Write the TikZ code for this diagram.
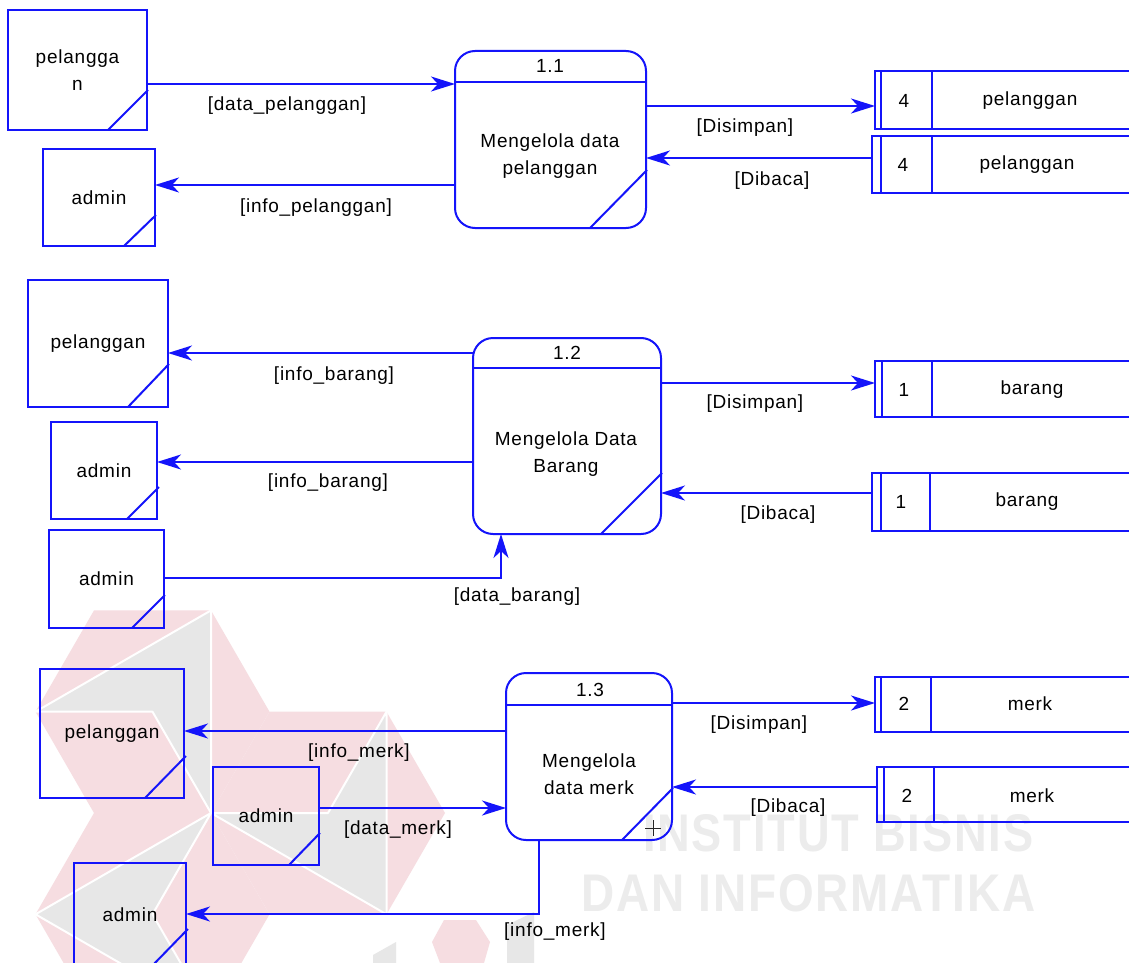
\documentclass[tikz,border=0pt]{standalone}
\usepackage{graphicx}
\usepackage{fontspec}
\setmainfont[LetterSpace=4]{Liberation Sans}
\usetikzlibrary{arrows.meta,calc}
\definecolor{dfd}{RGB}{20,20,250}
\definecolor{wmpink}{RGB}{246,221,225}
\definecolor{wmgrey}{RGB}{231,231,231}
\definecolor{wmtext}{RGB}{236,236,236}
\begin{document}
\begin{tikzpicture}[x=1pt,y=-1pt,font=\fontsize{19}{27}\selectfont,
  ln/.style={draw=dfd,line width=2pt},
  ent/.style={draw=dfd,line width=2pt,inner sep=0pt,outer sep=0pt,align=center,text=black},
  proc/.style={draw=dfd,line width=2pt,rounded corners=20pt,inner sep=0pt,outer sep=0pt},
  store/.style={inner sep=0pt,outer sep=0pt,minimum width=265pt},
  flow/.style={draw=dfd,line width=2pt,-{Stealth[length=24pt,width=15pt,inset=7pt]}},
  lbl/.style={inner sep=0pt,text=black,align=center},
  wmgreyfill/.style={fill=wmgrey,draw=white,line width=2pt,line join=round}]
\useasboundingbox (0,0) rectangle (1129,963);
\clip (0,0) rectangle (1129,963);
\fill[white] (0,0) rectangle (1129,963);

% ---------- watermark ----------
% right hexagon, centre (328,813)
\fill[wmpink] (211,813) -- (269.5,711.7) -- (386.5,711.7) -- (445,813) -- (386.5,914.3) -- (269.5,914.3) -- cycle;
\path[wmgreyfill] (386.5,711.7) -- (386.5,914.3) -- (211,813) -- (328,813) -- cycle;
% upper-left hexagon, centre (152.5,711.7)
\fill[wmpink] (269.5,711.7) -- (211,610.4) -- (94,610.4) -- (35.5,711.7) -- (94,813) -- (211,813) -- cycle;
\path[wmgreyfill] (35.5,711.7) -- (211,610.4) -- (211,813) -- (152.5,711.7) -- cycle;
% lower-left hexagon, centre (152.5,914.3)
\fill[wmpink] (269.5,914.3) -- (211,1015.6) -- (94,1015.6) -- (35.5,914.3) -- (94,813) -- (211,813) -- cycle;
\path[wmgreyfill] (211,1015.6) -- (35.5,914.3) -- (211,813) -- (152.5,914.3) -- cycle;
% fragments at the bottom
\fill[wmpink] (444,920) -- (476,920) -- (490,942) -- (484,963) -- (440,963) -- (432,942) -- cycle;
\fill[wmgrey] (373,955) -- (396,942) -- (396,963) -- (373,963) -- cycle;
\fill[wmgrey] (507,925) -- (534,912) -- (534,963) -- (507,963) -- cycle;
\node[inner sep=0pt,anchor=west,text=wmtext] (wm1) at (643,833) {\resizebox{390pt}{37pt}{\bfseries INSTITUT BISNIS}};
\node[inner sep=0pt,anchor=west,text=wmtext] (wm2) at (581,893) {\resizebox{454pt}{37pt}{\bfseries DAN INFORMATIKA}};

% ---------- section 1 ----------
\node[ent,minimum width=139pt,minimum height=120pt] (e1) at (77.5,70) {pelangga\\n};
\draw[ln] ([xshift=-39pt]e1.south east) -- ([shift={(1pt,40pt)}]e1.south east);
\node[ent,minimum width=112pt,minimum height=97pt] (e2) at (99,197.5) {admin};
\draw[ln] ([xshift=-31pt]e2.south east) -- ([shift={(1pt,31pt)}]e2.south east);

\node[proc,minimum width=191pt,minimum height=177pt] (p1) at (550.5,139.5) {};
\draw[ln] ([yshift=-31pt]p1.north west) -- ([yshift=-31pt]p1.north east);
\draw[ln] ([xshift=-56pt]p1.south east) -- ([shift={(1pt,58pt)}]p1.south east);
\node[lbl] (p1n) at (550,66) {1.1};
\node[lbl] (p1t) at (550,156) {Mengelola data\\pelanggan};

\node[store,minimum height=58pt] (s1a) at (1007.5,100) {};
\draw[ln] (s1a.north east) -- (s1a.north west) -- (s1a.south west) -- (s1a.south east);
\draw[ln] ([xshift=6pt]s1a.north west) -- ([xshift=6pt]s1a.south west);
\draw[ln] ([xshift=57pt]s1a.north west) -- ([xshift=57pt]s1a.south west);
\node[lbl] (s1an) at (904,101) {4};
\node[lbl] (s1at) at (1030,101) {pelanggan};

\node[store,minimum height=57pt] (s1b) at (1004.5,164.5) {};
\draw[ln] (s1b.north east) -- (s1b.north west) -- (s1b.south west) -- (s1b.south east);
\draw[ln] ([xshift=9pt]s1b.north west) -- ([xshift=9pt]s1b.south west);
\draw[ln] ([xshift=60pt]s1b.north west) -- ([xshift=60pt]s1b.south west);
\node[lbl] (s1bn) at (903,165) {4};
\node[lbl] (s1bt) at (1027,165) {pelanggan};

\draw[flow] (e1.east |- 0,84) -- (p1.west |- 0,84);
\node[lbl] (l1) at (287,106) {[data\_pelanggan]};
\draw[flow] (p1.west |- 0,185) -- (e2.east |- 0,185);
\node[lbl] (l2) at (316,208) {[info\_pelanggan]};
\draw[flow] (p1.east |- 0,106) -- (s1a.west |- 0,106);
\node[lbl] (l3) at (745,128) {[Disimpan]};
\draw[flow] (s1b.west |- 0,158) -- (p1.east |- 0,158);
\node[lbl] (l4) at (772,181) {[Dibaca]};

% ---------- section 2 ----------
\node[ent,minimum width=140pt,minimum height=127pt] (e3) at (98,343.5) {pelanggan};
\draw[ln] ([xshift=-40pt]e3.south east) -- ([shift={(1pt,43pt)}]e3.south east);
\node[ent,minimum width=106pt,minimum height=97pt] (e4) at (104,470.5) {admin};
\draw[ln] ([xshift=-30pt]e4.south east) -- ([shift={(2pt,32pt)}]e4.south east);
\node[ent,minimum width=115pt,minimum height=98pt] (e5) at (106.5,579) {admin};
\draw[ln] ([xshift=-32pt]e5.south east) -- ([shift={(1pt,33pt)}]e5.south east);

\node[proc,minimum width=188pt,minimum height=196pt] (p2) at (567,436) {};
\draw[ln] ([yshift=-30pt]p2.north west) -- ([yshift=-30pt]p2.north east);
\draw[ln] ([xshift=-60pt]p2.south east) -- ([shift={(1pt,61pt)}]p2.south east);
\node[lbl] (p2n) at (567,353) {1.2};
\node[lbl] (p2t) at (566,454) {Mengelola Data\\Barang};

\node[store,minimum height=56pt] (s2a) at (1007.5,389) {};
\draw[ln] (s2a.north east) -- (s2a.north west) -- (s2a.south west) -- (s2a.south east);
\draw[ln] ([xshift=7pt]s2a.north west) -- ([xshift=7pt]s2a.south west);
\draw[ln] ([xshift=57pt]s2a.north west) -- ([xshift=57pt]s2a.south west);
\node[lbl] (s2an) at (904,390) {1};
\node[lbl] (s2at) at (1032,390) {barang};

\node[store,minimum height=58pt] (s2b) at (1004.5,502) {};
\draw[ln] (s2b.north east) -- (s2b.north west) -- (s2b.south west) -- (s2b.south east);
\draw[ln] ([xshift=9pt]s2b.north west) -- ([xshift=9pt]s2b.south west);
\draw[ln] ([xshift=58pt]s2b.north west) -- ([xshift=58pt]s2b.south west);
\node[lbl] (s2bn) at (901,502) {1};
\node[lbl] (s2bt) at (1027,502) {barang};

\draw[flow] (p2.west |- 0,353) -- (e3.east |- 0,353);
\node[lbl] (l5) at (334,376) {[info\_barang]};
\draw[flow] (p2.west |- 0,462) -- (e4.east |- 0,462);
\node[lbl] (l6) at (328,483) {[info\_barang]};
\draw[flow] (e5.east |- 0,578) -| (p2.south -| 501,0);
\node[lbl] (l7) at (517,597) {[data\_barang]};
\draw[flow] (p2.east |- 0,383) -- (s2a.west |- 0,383);
\node[lbl] (l8) at (755,404) {[Disimpan]};
\draw[flow] (s2b.west |- 0,493) -- (p2.east |- 0,493);
\node[lbl] (l9) at (778,515) {[Dibaca]};

% ---------- section 3 ----------
\node[ent,minimum width=144pt,minimum height=129pt] (e6) at (112,733.5) {pelanggan};
\draw[ln] ([xshift=-39pt]e6.south east) -- ([shift={(2pt,42pt)}]e6.south east);
\node[ent,minimum width=106pt,minimum height=98pt] (e7) at (266,816) {admin};
\draw[ln] ([xshift=-30pt]e7.south east) -- ([shift={(1pt,32pt)}]e7.south east);
\node[ent,minimum width=112pt,minimum height=104pt] (e8) at (130,915) {admin};
\draw[ln] ([xshift=-35pt]e8.south east) -- ([shift={(2pt,38pt)}]e8.south east);

\node[proc,minimum width=166pt,minimum height=167pt] (p3) at (589,756.5) {};
\draw[ln] ([yshift=-32pt]p3.north west) -- ([yshift=-32pt]p3.north east);
\draw[ln] ([xshift=-50pt]p3.south east) -- ([shift={(1pt,52pt)}]p3.south east);
\node[lbl] (p3n) at (590,690) {1.3};
\node[lbl] (p3t) at (589,774) {Mengelola\\data merk};
\draw[line width=1pt,black!85] ([shift={(-27pt,12pt)}]p3.south east) -- ([shift={(-11pt,12pt)}]p3.south east)
  ([shift={(-19pt,4pt)}]p3.south east) -- ([shift={(-19pt,20pt)}]p3.south east);

\node[store,minimum height=55pt] (s3a) at (1007.5,704.5) {};
\draw[ln] (s3a.north east) -- (s3a.north west) -- (s3a.south west) -- (s3a.south east);
\draw[ln] ([xshift=6pt]s3a.north west) -- ([xshift=6pt]s3a.south west);
\draw[ln] ([xshift=56pt]s3a.north west) -- ([xshift=56pt]s3a.south west);
\node[lbl] (s3an) at (904,704) {2};
\node[lbl] (s3at) at (1030,704) {merk};

\node[store,minimum height=55pt] (s3b) at (1009.5,794.5) {};
\draw[ln] (s3b.north east) -- (s3b.north west) -- (s3b.south west) -- (s3b.south east);
\draw[ln] ([xshift=7pt]s3b.north west) -- ([xshift=7pt]s3b.south west);
\draw[ln] ([xshift=57pt]s3b.north west) -- ([xshift=57pt]s3b.south west);
\node[lbl] (s3bn) at (907,796) {2};
\node[lbl] (s3bt) at (1032,796) {merk};

\draw[flow] (p3.west |- 0,731) -- (e6.east |- 0,731);
\node[lbl] (l10) at (359,753) {[info\_merk]};
\draw[flow] (e7.east |- 0,808) -- (p3.west |- 0,808);
\node[lbl] (l11) at (398,830) {[data\_merk]};
\draw[flow] (p3.south -| 539,0) |- (e8.east |- 0,914);
\node[lbl] (l12) at (555,932) {[info\_merk]};
\draw[flow] (p3.east |- 0,703) -- (s3a.west |- 0,703);
\node[lbl] (l13) at (759,725) {[Disimpan]};
\draw[flow] (s3b.west |- 0,787) -- (p3.east |- 0,787);
\node[lbl] (l14) at (788,808) {[Dibaca]};
\end{tikzpicture}
\end{document}
